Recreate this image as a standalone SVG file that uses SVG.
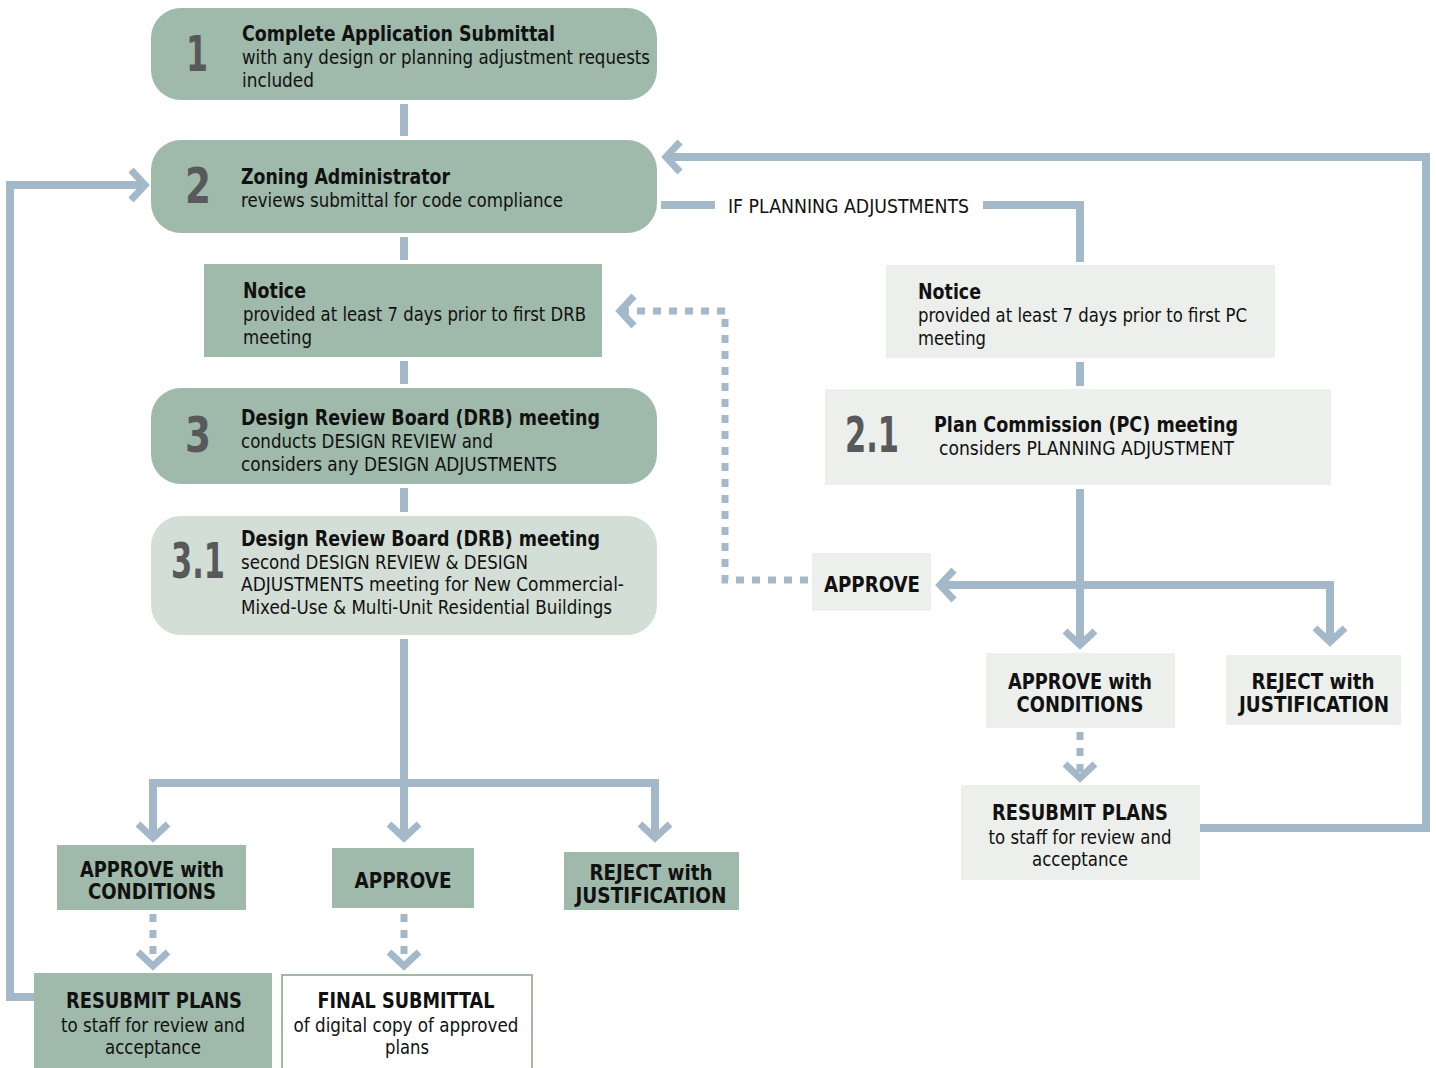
<svg xmlns="http://www.w3.org/2000/svg" width="1436" height="1068" viewBox="0 0 1436 1068">
<style>
text{font-family:"DejaVu Sans Condensed","Liberation Sans",sans-serif;fill:#111}
.t{font-size:22px;font-weight:bold}
.b{font-size:20px}
.n{font-size:50px;font-weight:bold;fill:#58595b}
.c{text-anchor:middle}
.dk{fill:#9fb9aa}
.lt{fill:#d3ded7}
.gr{fill:#ecefec}
.ln{fill:none;stroke:#a3b8c9;stroke-width:8}
.dt{fill:none;stroke:#a3b8c9;stroke-width:7;stroke-dasharray:8 8}
</style>
<defs>
<marker id="ah" markerUnits="userSpaceOnUse" markerWidth="40" markerHeight="40" viewBox="0 0 40 40" refX="22" refY="20" orient="auto">
<polyline points="8,5 22,20 8,35" fill="none" stroke="#a3b8c9" stroke-width="7"/>
</marker>
</defs>
<rect width="1436" height="1068" fill="#fff"/>
<g id="connectors">
<path class="ln" d="M404,104V136"/>
<path class="ln" d="M404,237V260"/>
<path class="ln" d="M404,361V384"/>
<path class="ln" d="M404,488V512"/>
<path class="ln" d="M404,639V838" marker-end="url(#ah)"/>
<path class="ln" d="M404,783H655V838" marker-end="url(#ah)"/>
<path class="ln" d="M404,783H153V838" marker-end="url(#ah)"/>
<path class="dt" d="M153,914V966" marker-end="url(#ah)"/>
<path class="dt" d="M404,914V966" marker-end="url(#ah)"/>
<path class="ln" d="M34,997H10V185H145" marker-end="url(#ah)"/>
<path class="ln" d="M1200,828H1426V157H666" marker-end="url(#ah)"/>
<path class="ln" d="M661,205H715"/>
<path class="ln" d="M983,205H1080V262"/>
<path class="ln" d="M1080,362V386"/>
<path class="ln" d="M1080,489V645" marker-end="url(#ah)"/>
<path class="ln" d="M1080,585H1330V642" marker-end="url(#ah)"/>
<path class="ln" d="M1080,585H940" marker-end="url(#ah)"/>
<path class="dt" d="M808,580H725V311H620" marker-end="url(#ah)"/>
<path class="dt" d="M1080,732V778" marker-end="url(#ah)"/>
<text class="b" x="728" y="213" textLength="241" lengthAdjust="spacingAndGlyphs">IF PLANNING ADJUSTMENTS</text>
</g>
<g id="n1">
<rect class="dk" x="151" y="8" width="506" height="92" rx="30"/>
<text class="n c" x="197" y="71" textLength="22" lengthAdjust="spacingAndGlyphs">1</text>
<text class="t" x="242" y="41" textLength="313" lengthAdjust="spacingAndGlyphs">Complete Application Submittal</text>
<text class="b" x="242" y="64" textLength="408" lengthAdjust="spacingAndGlyphs">with any design or planning adjustment requests</text>
<text class="b" x="242" y="87" textLength="72" lengthAdjust="spacingAndGlyphs">included</text>
</g>
<g id="n2">
<rect class="dk" x="151" y="140" width="506" height="93" rx="30"/>
<text class="n c" x="198" y="203" textLength="26" lengthAdjust="spacingAndGlyphs">2</text>
<text class="t" x="241" y="184" textLength="209" lengthAdjust="spacingAndGlyphs">Zoning Administrator</text>
<text class="b" x="241" y="207" textLength="322" lengthAdjust="spacingAndGlyphs">reviews submittal for code compliance</text>
</g>
<g id="notice-drb">
<rect class="dk" x="204" y="264" width="398" height="93"/>
<text class="t" x="243" y="298" textLength="63" lengthAdjust="spacingAndGlyphs">Notice</text>
<text class="b" x="243" y="321" textLength="343" lengthAdjust="spacingAndGlyphs">provided at least 7 days prior to first DRB</text>
<text class="b" x="243" y="344" textLength="69" lengthAdjust="spacingAndGlyphs">meeting</text>
</g>
<g id="n3">
<rect class="dk" x="151" y="388" width="506" height="96" rx="30"/>
<text class="n c" x="198" y="452" textLength="26" lengthAdjust="spacingAndGlyphs">3</text>
<text class="t" x="241" y="425" textLength="359" lengthAdjust="spacingAndGlyphs">Design Review Board (DRB) meeting</text>
<text class="b" x="241" y="448" textLength="252" lengthAdjust="spacingAndGlyphs">conducts DESIGN REVIEW and</text>
<text class="b" x="241" y="471" textLength="316" lengthAdjust="spacingAndGlyphs">considers any DESIGN ADJUSTMENTS</text>
</g>
<g id="n31">
<rect class="lt" x="151" y="516" width="506" height="119" rx="30"/>
<text class="n c" x="198" y="578" textLength="54" lengthAdjust="spacingAndGlyphs">3.1</text>
<text class="t" x="241" y="546" textLength="359" lengthAdjust="spacingAndGlyphs">Design Review Board (DRB) meeting</text>
<text class="b" x="241" y="569" textLength="287" lengthAdjust="spacingAndGlyphs">second DESIGN REVIEW &amp; DESIGN</text>
<text class="b" x="241" y="591" textLength="383" lengthAdjust="spacingAndGlyphs">ADJUSTMENTS meeting for New Commercial-</text>
<text class="b" x="241" y="614" textLength="371" lengthAdjust="spacingAndGlyphs">Mixed-Use &amp; Multi-Unit Residential Buildings</text>
</g>
<g id="approve-cond-l">
<rect class="dk" x="57" y="845" width="189" height="65"/>
<text class="t c" x="152" y="877" textLength="144" lengthAdjust="spacingAndGlyphs">APPROVE with</text>
<text class="t c" x="152" y="899" textLength="128" lengthAdjust="spacingAndGlyphs">CONDITIONS</text>
</g>
<g id="approve-l">
<rect class="dk" x="332" y="848" width="142" height="60"/>
<text class="t c" x="403" y="888" textLength="97" lengthAdjust="spacingAndGlyphs">APPROVE</text>
</g>
<g id="reject-l">
<rect class="dk" x="564" y="852" width="175" height="58"/>
<text class="t c" x="651" y="880" textLength="123" lengthAdjust="spacingAndGlyphs">REJECT with</text>
<text class="t c" x="651" y="903" textLength="151" lengthAdjust="spacingAndGlyphs">JUSTIFICATION</text>
</g>
<g id="resubmit-l">
<rect class="dk" x="34" y="973" width="238" height="95"/>
<text class="t c" x="154" y="1008" textLength="176" lengthAdjust="spacingAndGlyphs">RESUBMIT PLANS</text>
<text class="b c" x="153" y="1032" textLength="184" lengthAdjust="spacingAndGlyphs">to staff for review and</text>
<text class="b c" x="153" y="1054" textLength="96" lengthAdjust="spacingAndGlyphs">acceptance</text>
</g>
<g id="final">
<rect x="282" y="975" width="250" height="94" fill="#fff" stroke="#9fb9aa" stroke-width="2"/>
<text class="t c" x="406" y="1008" textLength="177" lengthAdjust="spacingAndGlyphs">FINAL SUBMITTAL</text>
<text class="b c" x="406" y="1032" textLength="225" lengthAdjust="spacingAndGlyphs">of digital copy of approved</text>
<text class="b c" x="407" y="1054" textLength="44" lengthAdjust="spacingAndGlyphs">plans</text>
</g>
<g id="notice-pc">
<rect class="gr" x="886" y="265" width="389" height="93"/>
<text class="t" x="918" y="299" textLength="63" lengthAdjust="spacingAndGlyphs">Notice</text>
<text class="b" x="918" y="322" textLength="329" lengthAdjust="spacingAndGlyphs">provided at least 7 days prior to first PC</text>
<text class="b" x="918" y="345" textLength="68" lengthAdjust="spacingAndGlyphs">meeting</text>
</g>
<g id="n21">
<rect class="gr" x="825" y="389" width="506" height="96"/>
<text class="n c" x="872" y="452" textLength="54" lengthAdjust="spacingAndGlyphs">2.1</text>
<text class="t" x="934" y="432" textLength="304" lengthAdjust="spacingAndGlyphs">Plan Commission (PC) meeting</text>
<text class="b" x="939" y="455" textLength="295" lengthAdjust="spacingAndGlyphs">considers PLANNING ADJUSTMENT</text>
</g>
<g id="approve-r">
<rect class="gr" x="812" y="553" width="119" height="58"/>
<text class="t c" x="872" y="592" textLength="96" lengthAdjust="spacingAndGlyphs">APPROVE</text>
</g>
<g id="approve-cond-r">
<rect class="gr" x="986" y="653" width="189" height="75"/>
<text class="t c" x="1080" y="689" textLength="144" lengthAdjust="spacingAndGlyphs">APPROVE with</text>
<text class="t c" x="1080" y="712" textLength="127" lengthAdjust="spacingAndGlyphs">CONDITIONS</text>
</g>
<g id="reject-r">
<rect class="gr" x="1226" y="655" width="175" height="70"/>
<text class="t c" x="1313" y="689" textLength="123" lengthAdjust="spacingAndGlyphs">REJECT with</text>
<text class="t c" x="1314" y="712" textLength="150" lengthAdjust="spacingAndGlyphs">JUSTIFICATION</text>
</g>
<g id="resubmit-r">
<rect class="gr" x="961" y="785" width="239" height="95"/>
<text class="t c" x="1080" y="820" textLength="176" lengthAdjust="spacingAndGlyphs">RESUBMIT PLANS</text>
<text class="b c" x="1080" y="844" textLength="183" lengthAdjust="spacingAndGlyphs">to staff for review and</text>
<text class="b c" x="1080" y="866" textLength="96" lengthAdjust="spacingAndGlyphs">acceptance</text>
</g>
</svg>
